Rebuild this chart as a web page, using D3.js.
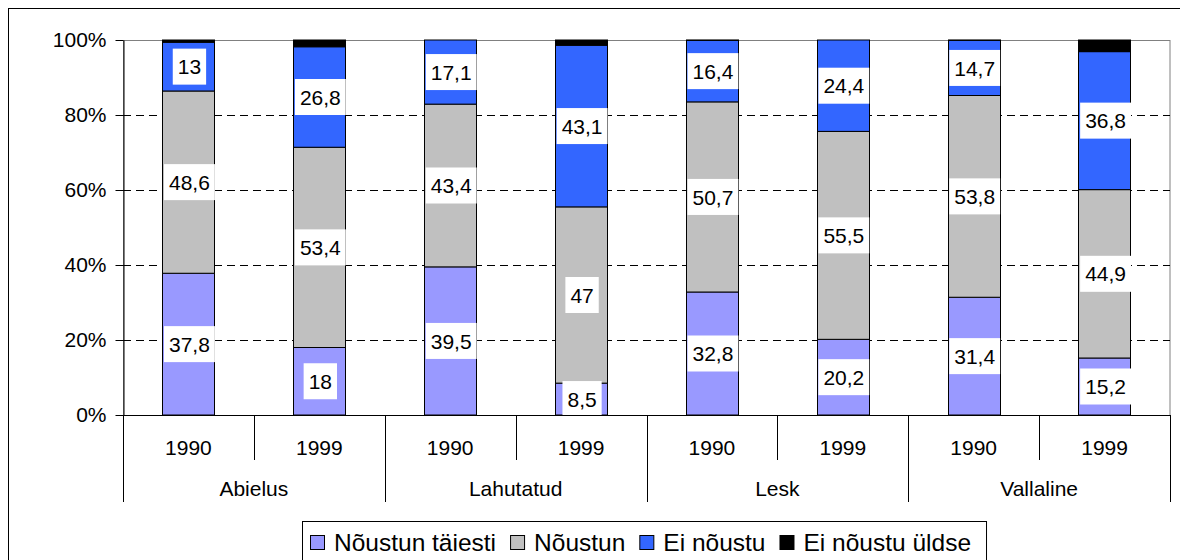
<!DOCTYPE html>
<html>
<head>
<meta charset="utf-8">
<script src="https://cdn.jsdelivr.net/npm/d3@7"></script>
<style>
  body { margin: 0; background: #fff; }
  text { font-family: 'Liberation Sans', Arial, sans-serif; fill: #000; }
</style>
</head>
<body>
<div id="chart"></div>
<script>
// categories
let groups = ['Abielus', 'Lahutatud', 'Lesk', 'Vallaline']
let years = ['1990', '1999']
let seriesNames = ['Nõustun täiesti', 'Nõustun', 'Ei nõustu', 'Ei nõustu üldse']
let seriesColors = ['#9999ff', '#c0c0c0', '#3366ff', '#000000']

// values per column: Abielus 1990, 1999, Lahutatud 1990, 1999, Lesk ..., Vallaline ...
let taiesti = [37.8, 18, 39.5, 8.5, 32.8, 20.2, 31.4, 15.2]
let noustun = [48.6, 53.4, 43.4, 47, 50.7, 55.5, 53.8, 44.9]
let eiNoustu = [13, 26.8, 17.1, 43.1, 16.4, 24.4, 14.7, 36.8]
let eiUldse = [0.6, 1.8, 0, 1.4, 0.1, 0, 0.1, 3.1]

let yTicks = [0, 0.2, 0.4, 0.6, 0.8, 1]

let width = 1180
let height = 560
let plot = { left: 123, right: 1170, top: 40, bottom: 415 }

let svg = d3
  .select('#chart')
  .append('svg')
  .attr('width', width)
  .attr('height', height)

// outer chart frame (runs off the right and bottom edge)
svg
  .append('rect')
  .attr('x', 8.5)
  .attr('y', 8.5)
  .attr('width', 1200)
  .attr('height', 600)
  .attr('fill', 'none')
  .attr('stroke', '#000')

let columns = []
groups.forEach((g, gi) => {
  years.forEach((yr, yi) => {
    columns.push({ key: gi * 2 + yi, group: g, year: yr })
  })
})

let rows = columns.map((c, i) => {
  let vals = [taiesti[i], noustun[i], eiNoustu[i], eiUldse[i]]
  let total = d3.sum(vals)
  let row = { key: c.key, total: total }
  seriesNames.forEach((s, si) => {
    row[s] = vals[si] / total
    row['raw' + si] = vals[si]
  })
  return row
})

let xPositionScale = d3
  .scaleBand()
  .domain(columns.map(d => d.key))
  .range([plot.left, plot.right])
  .paddingInner(0.6)
  .paddingOuter(0.3)

let yPositionScale = d3
  .scaleLinear()
  .domain([0, 1])
  .range([plot.bottom, plot.top])

let colorScale = d3.scaleOrdinal().domain(seriesNames).range(seriesColors)

// plot area border (gray top / right)
svg
  .append('rect')
  .attr('x', plot.left + 0.5)
  .attr('y', plot.top + 0.5)
  .attr('width', plot.right - plot.left - 0.5)
  .attr('height', plot.bottom - plot.top)
  .attr('fill', 'none')
  .attr('stroke', '#808080')

// gridlines
svg
  .selectAll('.grid')
  .data(yTicks.filter(d => d > 0))
  .enter()
  .append('line')
  .attr('class', 'grid')
  .attr('x1', plot.left)
  .attr('x2', plot.right)
  .attr('y1', d => Math.round(yPositionScale(d)) + 0.5)
  .attr('y2', d => Math.round(yPositionScale(d)) + 0.5)
  .attr('stroke', d => (d === 1 ? '#808080' : '#000'))
  .attr('stroke-dasharray', '8,5')

let stacked = d3.stack().keys(seriesNames)(rows)

let layers = svg
  .selectAll('.layer')
  .data(stacked)
  .enter()
  .append('g')
  .attr('class', 'layer')
  .attr('fill', d => colorScale(d.key))

layers
  .selectAll('rect')
  .data(d => d.filter(p => p[1] - p[0] > 0))
  .enter()
  .append('rect')
  .attr('x', d => Math.round(xPositionScale(d.data.key)) + 0.5)
  .attr('width', Math.round(xPositionScale.bandwidth()))
  .attr('y', d => yPositionScale(d[1]))
  .attr('height', d => yPositionScale(d[0]) - yPositionScale(d[1]))
  .attr('stroke', '#000')
  .attr('stroke-width', 1)

// data labels for first three series
let labelData = []
stacked.slice(0, 3).forEach((layer, si) => {
  layer.forEach(p => {
    labelData.push({
      key: p.data.key,
      mid: (p[0] + p[1]) / 2,
      text: String(p.data['raw' + si]).replace('.', ',')
    })
  })
})

let labels = svg
  .selectAll('.label')
  .data(labelData)
  .enter()
  .append('g')
  .attr('class', 'label')
  .attr('transform', d => {
    let cx = xPositionScale(d.key) + xPositionScale.bandwidth() / 2 + 1
    return 'translate(' + cx + ',' + yPositionScale(d.mid) + ')'
  })

labels
  .append('text')
  .attr('text-anchor', 'middle')
  .attr('dy', '0.36em')
  .attr('font-size', 21)
  .text(d => d.text)

labels.each(function() {
  let g = d3.select(this)
  let w = g.select('text').node().getComputedTextLength() + 10
  g.insert('rect', 'text')
    .attr('x', -w / 2)
    .attr('y', -18)
    .attr('width', w)
    .attr('height', 36)
    .attr('fill', '#fff')
})

// y axis
let yAxis = d3
  .axisLeft(yPositionScale)
  .tickValues(yTicks)
  .tickFormat(d3.format('.0%'))
  .tickSize(8)
  .tickSizeOuter(0)
  .tickPadding(9)

svg
  .append('g')
  .attr('class', 'axis y-axis')
  .attr('transform', 'translate(' + (plot.left + 0.5) + ',0)')
  .call(yAxis)
  .call(g => g.selectAll('text').attr('font-size', 21))
  .call(g => g.selectAll('line, path').attr('stroke', '#000'))

// x axis: year labels
let xAxis = d3
  .axisBottom(xPositionScale)
  .tickFormat(k => columns[k].year)
  .tickSize(0)
  .tickPadding(0)

svg
  .append('g')
  .attr('class', 'axis x-axis')
  .attr('transform', 'translate(0,' + (plot.bottom + 0.5) + ')')
  .call(xAxis)
  .call(g => g.select('.domain').remove())
  .call(g =>
    g
      .selectAll('text')
      .attr('font-size', 21)
      .attr('y', 32)
      .attr('dy', '0.36em')
  )

svg
  .append('line')
  .attr('x1', plot.left)
  .attr('x2', plot.right)
  .attr('y1', plot.bottom + 0.5)
  .attr('y2', plot.bottom + 0.5)
  .attr('stroke', '#000')

let step = xPositionScale.step()
let boundaries = d3.range(columns.length + 1)
svg
  .selectAll('.sep')
  .data(boundaries)
  .enter()
  .append('line')
  .attr('class', 'sep')
  .attr('x1', i => Math.round(plot.left + i * step) + 0.5)
  .attr('x2', i => Math.round(plot.left + i * step) + 0.5)
  .attr('y1', plot.bottom)
  .attr('y2', i => (i % 2 === 0 ? 502 : 460))
  .attr('stroke', '#000')

// group labels
svg
  .selectAll('.group-label')
  .data(groups)
  .enter()
  .append('text')
  .attr('class', 'group-label')
  .attr('text-anchor', 'middle')
  .attr('font-size', 21)
  .attr('x', (d, i) => plot.left + (i * 2 + 1) * step)
  .attr('y', 488)
  .attr('dy', '0.36em')
  .text(d => d)

// legend
let legend = svg.append('g').attr('transform', 'translate(302,521)')
let legendBox = legend
  .append('rect')
  .attr('x', 0.5)
  .attr('y', 0.5)
  .attr('height', 44)
  .attr('fill', '#fff')
  .attr('stroke', '#000')

let lx = 8
seriesNames.forEach((s, i) => {
  legend
    .append('rect')
    .attr('x', lx + 0.5)
    .attr('y', 14.5)
    .attr('width', 14)
    .attr('height', 14)
    .attr('fill', colorScale(s))
    .attr('stroke', '#000')
  let t = legend
    .append('text')
    .attr('x', lx + 24)
    .attr('y', 21)
    .attr('dy', '0.36em')
    .attr('font-size', 24.5)
    .text(s)
  lx += 24 + t.node().getComputedTextLength() + 14
})
legendBox.attr('width', lx + 1)
</script>
</body>
</html>
